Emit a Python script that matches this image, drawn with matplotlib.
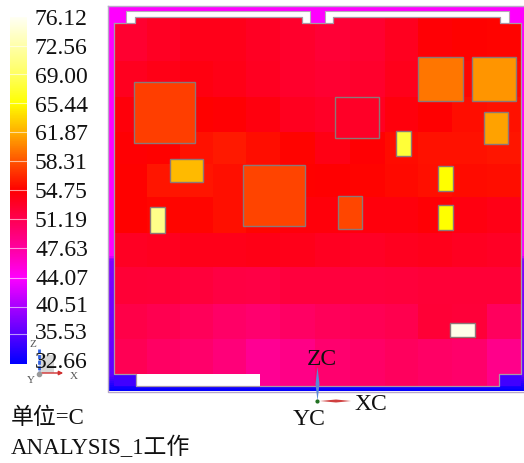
import numpy as np
import matplotlib
matplotlib.use("Agg")
import matplotlib.pyplot as plt
from matplotlib.colors import LinearSegmentedColormap
from matplotlib.patches import Rectangle, Polygon

plt.rcParams['font.family'] = ['Liberation Serif', 'Noto Sans CJK SC', 'DejaVu Sans']

# scale
level_labels = ["76.12","72.56","69.00","65.44","61.87","58.31","54.75","51.19","47.63","44.07","40.51","35.53","32.66"]
level_values = [76.12,72.56,69.00,65.44,61.87,58.31,54.75,51.19,47.63,44.07,40.51,35.53,32.66]
level_colors = ["#fffff4","#ffffa8","#ffff60","#ffff00","#ffb000","#ff5400","#ff0000","#ff0050","#ff00a0","#ff00ff","#a800ff","#5a00ff","#0000ff"]
level_edges_px = [18,47,75,104,133,162,191,220,249,279,308,335,365]
label_px = [18,47,76,105,133,162,191,220,249,278,305,332,361]

# temperature field (rows top to bottom)
col_edges = [114,147,180,213,246,280,315,350,385,418,452,487,521]
row_edges = [18,62,98,133,165,198,234,268,305,340,387]
field = np.array([
 [52.6,53.2,53.6,53.6,53.2,52.8,52.4,52.6,53.4,54.5,54.8,54.9],
 [53.4,53.8,54.0,53.8,53.3,52.8,52.5,52.8,53.5,54.3,55.0,55.1],
 [54.3,54.6,54.8,54.6,54.1,53.4,53.0,53.3,54.2,54.7,55.3,55.5],
 [54.6,54.8,55.5,55.8,55.3,54.9,53.9,54.6,55.2,55.5,55.5,55.6],
 [54.8,55.6,55.6,55.4,55.6,54.8,54.7,54.9,55.1,55.4,55.2,55.3],
 [54.8,55.0,55.0,55.4,55.0,54.3,54.3,54.2,54.2,54.5,54.0,53.8],
 [53.2,53.4,53.6,53.6,53.8,53.6,53.3,53.1,53.4,53.5,53.3,53.1],
 [52.4,52.3,52.1,51.8,51.7,52.0,52.0,52.0,52.1,52.3,52.3,52.3],
 [51.5,51.2,50.8,50.2,49.9,50.4,50.8,51.0,51.3,52.4,52.2,50.6],
 [51.0,50.4,50.0,49.4,48.2,48.8,49.9,50.2,50.6,50.3,50.0,48.6],
])

# components
comp_x0 = [134,170,150,243,338,335,396,418,472,484,438,438,450]
comp_x1 = [195,203,165,305,362,379,411,463,516,508,453,453,475]
comp_y0 = [83,160,208,166,197,98,132,58,58,113,167,206,324]
comp_y1 = [144,183,234,227,230,139,157,102,102,145,192,231,338]
comp_t  = [57.4,62.3,71.0,57.6,57.7,53.0,67.5,59.6,60.8,61.3,65.4,65.4,75.5]

# board rim temperature from top to bottom
rim_y = [7,256,262,320,375,387,392]
rim_t = [44.07,44.07,38.0,37.0,36.0,33.5,32.66]

# white slots around the plate
slot_x0 = [126,325,136,126,302,325,500]
slot_x1 = [310,509,260,135,310,333,509]
slot_y0 = [12,12,375,18,18,18,18]
slot_y1 = [18,18,387,24,24,24,24]

n = len(level_values)
asc_v = np.array(level_values[::-1])
cmap = LinearSegmentedColormap.from_list("th", list(zip(np.linspace(0,1,n), level_colors[::-1])), N=512)
def pos(v):
    return np.interp(v, asc_v, np.linspace(0,1,n))

fig = plt.figure(figsize=(5.24,4.64), dpi=100)
ax = fig.add_axes([0,0,1,1])
ax.set_xlim(0,524); ax.set_ylim(464,0); ax.axis("off")

# colour bar
ys = np.linspace(level_edges_px[0], level_edges_px[-1], 350)
bar_pos = np.interp((ys[:-1]+ys[1:])/2, level_edges_px, np.linspace(1,0,n))
ax.pcolormesh([10,27], ys, bar_pos[:,None], cmap=cmap, vmin=0, vmax=1, shading="flat", zorder=1)
for y in level_edges_px[1:-1]:
    ax.plot([10,27],[y,y],color="#ffffff",alpha=.6,lw=.8,zorder=2)
for y,t in zip(label_px, level_labels):
    ax.text(35,y+1.5,t,fontsize=17,va="center",ha="left",color="#111111",zorder=6)

# rim
ysr = np.linspace(rim_y[0], rim_y[-1], 200)
ax.pcolormesh([108,524], ysr, pos(np.interp((ysr[:-1]+ysr[1:])/2, rim_y, rim_t))[:,None], cmap=cmap, vmin=0, vmax=1, zorder=1)
ax.plot([108,108,524],[7,392.5,392.5],color="#b8a8c8",lw=1,zorder=3)
ax.plot([108,524],[7,7],color="#b8a8c8",lw=1,zorder=3)

# plate
ax.pcolormesh(col_edges,row_edges,pos(field),cmap=cmap,vmin=0,vmax=1,shading="flat",zorder=2)

# rim-coloured cuts in the plate's top and bottom edge
rimc = cmap(float(pos(44.07)))
for a,b in [(114,126),(310,325),(509,521)]:
    ax.add_patch(Rectangle((a,18),b-a,6,fc=rimc,ec="none",zorder=3))
for a in (114,499):
    ax.add_patch(Rectangle((a,375),22,12,fc="#4000ff",ec="none",zorder=3))
for a,b,c,d in zip(slot_x0,slot_x1,slot_y0,slot_y1):
    ax.add_patch(Rectangle((a,c),b-a,d-c,fc="white",ec="none",zorder=4))

# outlines
ax.plot([126,126,310,310],[24,12,12,24],color="#b8a8b8",lw=.8,zorder=5)
ax.plot([325,325,509,509],[24,12,12,24],color="#b8a8b8",lw=.8,zorder=5)
ax.plot([114,114,136,136,260,260,499,499,521,521,500,500,333,333,302,302,135,135,114],
        [24,375,375,387,387,387,387,375,375,24,24,18,18,24,24,18,18,24,24],
        color="#a898a8",lw=.9,zorder=5)

# components
for a,b,c,d,t in zip(comp_x0,comp_x1,comp_y0,comp_y1,comp_t):
    ax.add_patch(Rectangle((a,c),b-a,d-c,fc=cmap(float(pos(t))),ec="#8c7878",lw=1,zorder=6))

# small triad
ax.add_patch(Rectangle((39,356),15,18,fc="#d8d8d8",ec="none",zorder=3))
ax.plot([39,39],[350,375],color="#3060e0",lw=2,ls=(0,(1.5,.5)),zorder=5)
ax.annotate("",xy=(66,374),xytext=(39,374),arrowprops=dict(arrowstyle="-|>",color="#d03030",lw=1,mutation_scale=6),zorder=5)
ax.plot([39],[375],marker="o",ms=3,color="#999999",zorder=6)
ax.text(33,345,"Z",fontsize=8,ha="center",va="center",color="#555555",zorder=7)
ax.text(31,381,"Y",fontsize=8,ha="center",va="center",color="#555555",zorder=7)
ax.text(74,377,"X",fontsize=8,ha="center",va="center",color="#555555",zorder=7)

# main triad
ax.add_patch(Polygon([[317.5,368],[319.5,385],[317.5,402],[315.5,385]],fc="#5a8ad8",ec="none",zorder=7))
ax.add_patch(Polygon([[320,402],[336,400.5],[351,402],[336,403.5]],fc="#d04040",ec="none",zorder=7))
ax.plot([317],[402],marker="o",ms=2,color="#207020",zorder=8)
ax.text(322,360,"ZC",fontsize=17,ha="center",va="center",color="#111111",zorder=8)
ax.text(371,405,"XC",fontsize=17,ha="center",va="center",color="#111111",zorder=8)
ax.text(309,420,"YC",fontsize=17,ha="center",va="center",color="#111111",zorder=8)

ax.text(11,418.5,"单位=C",fontsize=16.5,va="center",ha="left",color="#111111")
ax.text(11,447.5,"ANALYSIS_1工作",fontsize=16.5,va="center",ha="left",color="#111111")

fig.savefig("out.png",dpi=100)
